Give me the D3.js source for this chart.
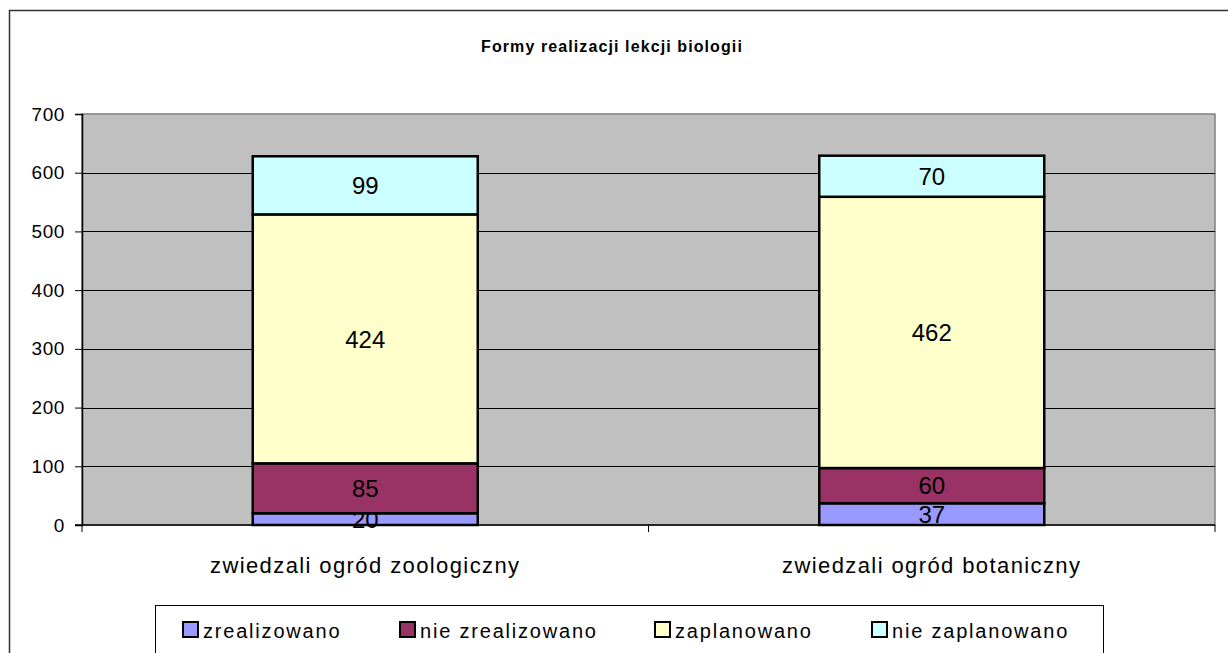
<!DOCTYPE html>
<html>
<head>
<meta charset="utf-8">
<script src="https://cdn.jsdelivr.net/npm/d3@7"></script>
<style>
  body { margin: 0; background: #fff; }
  svg { display: block; font-family: "Liberation Sans", Arial, sans-serif; }
</style>
</head>
<body>
<div id="chart"></div>
<script>
const categories = ["zwiedzali ogród zoologiczny", "zwiedzali ogród botaniczny"];
const seriesNames = ["zrealizowano", "nie zrealizowano", "zaplanowano", "nie zaplanowano"];
const seriesColors = ["#9999FF", "#993366", "#FFFFCC", "#CCFFFF"];
const zrealizowano = [20, 37];
const nieZrealizowano = [85, 60];
const zaplanowano = [424, 462];
const nieZaplanowano = [99, 70];
const yTicks = [0, 100, 200, 300, 400, 500, 600, 700];
const title = "Formy realizacji lekcji biologii";

const width = 1228, height = 653;
const plot = {left: 82, top: 114, right: 1215, bottom: 525};

const svg = d3.select('#chart').append('svg')
  .attr('width', width)
  .attr('height', height);

// outer chart border (clipped by the window on right/bottom)
svg.append('rect')
  .attr('x', 9.5).attr('y', 10.5)
  .attr('width', 1240).attr('height', 700)
  .attr('fill', '#fff')
  .attr('stroke', '#333').attr('stroke-width', 1.5);

svg.append('text')
  .attr('x', 612).attr('y', 52)
  .attr('text-anchor', 'middle')
  .style('font-size', '16px').style('font-weight', 'bold')
  .style('letter-spacing', '1.1px')
  .text(title);

const x = d3.scaleBand()
  .domain(categories)
  .range([plot.left, plot.right]);

const y = d3.scaleLinear()
  .domain([0, 700])
  .range([plot.bottom, plot.top]);

// plot background
svg.append('rect')
  .attr('x', plot.left).attr('y', plot.top)
  .attr('width', plot.right - plot.left).attr('height', plot.bottom - plot.top)
  .attr('fill', '#C0C0C0')
  .attr('stroke', '#808080').attr('stroke-width', 1.5);

// gridlines
svg.append('g')
  .selectAll('line')
  .data(yTicks.filter(t => t > 0 && t < 700))
  .join('line')
    .attr('x1', plot.left).attr('x2', plot.right)
    .attr('y1', d => Math.round(y(d)) + 0.5).attr('y2', d => Math.round(y(d)) + 0.5)
    .attr('stroke', '#000').attr('stroke-width', 1);

// stacked data
const table = categories.map((c, i) => ({
  category: c,
  [seriesNames[0]]: zrealizowano[i],
  [seriesNames[1]]: nieZrealizowano[i],
  [seriesNames[2]]: zaplanowano[i],
  [seriesNames[3]]: nieZaplanowano[i]
}));
const stacked = d3.stack().keys(seriesNames)(table);
const color = d3.scaleOrdinal().domain(seriesNames).range(seriesColors);

const barWidth = 225;
const barOffset = (x.bandwidth() - barWidth) / 2;

const layers = svg.append('g')
  .selectAll('g')
  .data(stacked)
  .join('g')
    .attr('fill', d => color(d.key));

layers.selectAll('rect')
  .data(d => d)
  .join('rect')
    .attr('x', d => x(d.data.category) + barOffset)
    .attr('y', d => y(d[1]))
    .attr('width', barWidth)
    .attr('height', d => y(d[0]) - y(d[1]))
    .attr('stroke', '#000').attr('stroke-width', 2.5);

layers.selectAll('text')
  .data(d => d.map(v => ({v, key: d.key})))
  .join('text')
    .attr('x', d => x(d.v.data.category) + x.bandwidth() / 2)
    .attr('y', d => (y(d.v[0]) + y(d.v[1])) / 2)
    .attr('dy', '0.36em')
    .attr('text-anchor', 'middle')
    .attr('fill', '#000')
    .style('font-size', '24px')
    .text(d => d.v.data[d.key]);

// y axis
const yAxis = svg.append('g')
  .attr('transform', `translate(${plot.left}, 0)`)
  .call(d3.axisLeft(y).tickValues(yTicks).tickSize(7).tickPadding(10));
yAxis.select('.domain').attr('stroke', '#000').attr('stroke-width', 1.5);
yAxis.selectAll('line').attr('stroke', '#000');
yAxis.selectAll('text').style('font-size', '19px').style('letter-spacing', '0.6px').attr('fill', '#000');

// x axis
const xAxis = svg.append('g')
  .attr('transform', `translate(0, ${plot.bottom})`);
xAxis.append('line')
  .attr('x1', plot.left - 7).attr('x2', plot.right)
  .attr('stroke', '#000').attr('stroke-width', 1.5);
xAxis.selectAll('line.tick')
  .data([...categories.map(c => x(c)), plot.right])
  .join('line')
    .attr('class', 'tick')
    .attr('x1', d => d).attr('x2', d => d)
    .attr('y1', 0).attr('y2', 7)
    .attr('stroke', '#000');
xAxis.selectAll('text')
  .data(categories)
  .join('text')
    .attr('x', d => x(d) + x.bandwidth() / 2)
    .attr('y', 48)
    .attr('text-anchor', 'middle')
    .style('font-size', '22px')
    .style('letter-spacing', '1.4px')
    .text(d => d);

// legend
const legend = svg.append('g');
legend.append('rect')
  .attr('x', 155.5).attr('y', 605.5)
  .attr('width', 948).attr('height', 70)
  .attr('fill', '#fff').attr('stroke', '#000').attr('stroke-width', 1);
const legendX = [183, 400, 655, 872];
const items = legend.selectAll('g.item')
  .data(seriesNames)
  .join('g')
    .attr('class', 'item')
    .attr('transform', (d, i) => `translate(${legendX[i]}, 622)`);
items.append('rect')
  .attr('width', 15).attr('height', 15)
  .attr('fill', d => color(d))
  .attr('stroke', '#000').attr('stroke-width', 2);
items.append('text')
  .attr('x', 20).attr('y', 16)
  .style('font-size', '20px')
  .style('letter-spacing', '1.8px')
  .text(d => d);
</script>
</body>
</html>
